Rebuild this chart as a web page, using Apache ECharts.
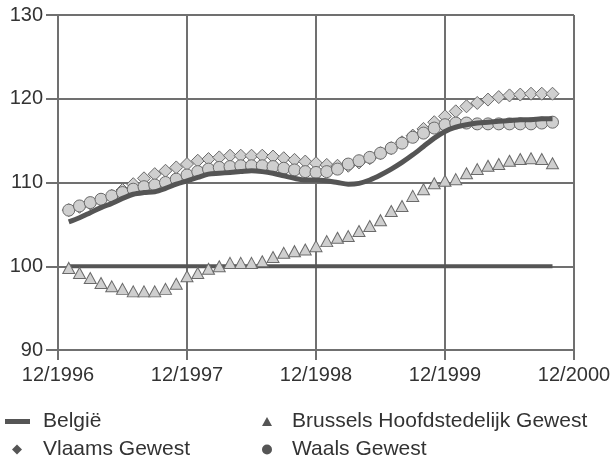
<!DOCTYPE html>
<html><head><meta charset="utf-8">
<script src="https://cdn.jsdelivr.net/npm/echarts@6/dist/echarts.min.js"></script>
<style>html,body{margin:0;padding:0;background:#fff}#c{width:614px;height:462px}</style>
</head><body><div id="c"></div>
<script>
// Monthly index values, 01/1997 .. 10/2000 (month offset 1..46 from 12/1996)
const xTickLabels = ['12/1996','12/1997','12/1998','12/1999','12/2000'];
const belgie = [105.3,105.8,106.4,107.0,107.5,108.1,108.6,108.8,108.9,109.3,109.8,110.2,110.6,111.0,111.1,111.2,111.3,111.4,111.3,111.1,110.8,110.5,110.3,110.3,110.2,110.0,109.8,109.9,110.3,110.9,111.6,112.4,113.3,114.3,115.3,116.1,116.6,116.9,117.1,117.2,117.3,117.4,117.5,117.5,117.6,117.6];
const belgieBase = [100,100,100,100,100,100,100,100,100,100,100,100,100,100,100,100,100,100,100,100,100,100,100,100,100,100,100,100,100,100,100,100,100,100,100,100,100,100,100,100,100,100,100,100,100,100];
const brussel = [99.8,99.2,98.6,98.0,97.6,97.3,97.0,97.0,97.0,97.3,97.9,98.8,99.2,99.7,100.0,100.4,100.4,100.4,100.6,101.1,101.6,101.8,102.0,102.4,103.0,103.4,103.6,104.2,104.8,105.5,106.6,107.2,108.4,109.2,109.9,110.2,110.4,111.1,111.6,112.0,112.2,112.6,112.8,112.9,112.8,112.3];
const vlaams = [106.7,107.1,107.5,107.9,108.4,109.1,109.8,110.5,111.0,111.4,111.8,112.2,112.6,112.8,113.0,113.2,113.2,113.2,113.2,113.1,112.9,112.7,112.5,112.3,112.1,112.0,112.0,112.4,112.9,113.5,114.1,114.8,115.6,116.4,117.2,117.9,118.5,119.1,119.5,119.9,120.2,120.4,120.5,120.6,120.6,120.6];
const waals = [106.7,107.2,107.6,108.0,108.4,108.8,109.2,109.5,109.7,110.0,110.4,110.9,111.3,111.6,111.8,111.9,112.0,112.0,112.0,111.9,111.7,111.5,111.3,111.2,111.3,111.6,112.2,112.6,113.0,113.5,114.1,114.7,115.4,115.9,116.5,116.9,117.1,117.1,117.0,117.0,117.0,117.0,117.0,117.0,117.1,117.2];

const toXY = arr => arr.map((v, i) => [i + 1, v]);
const FONT = 'Liberation Sans';
const TXT = '#333';
const GRID = '#707070';
const DARK = '#555';

const chart = echarts.init(document.getElementById('c'), null, {renderer: 'canvas'});
const markerStyle = {color: '#cfcfcf', borderColor: '#6a6a6a', borderWidth: 1};
const legendText = {fontFamily: FONT, fontSize: 21, color: TXT};
function legendAt(left, top, name, icon, w, h, pad) {
  return {left: left, top: top, itemWidth: w, itemHeight: h, selectedMode: false,
    data: [{name: name, icon: icon, itemStyle: {color: DARK, borderWidth: 0}, lineStyle: {width: 0}}],
    textStyle: Object.assign({padding: [0, 0, 0, pad]}, legendText)};
}
chart.setOption({
  animation: false,
  backgroundColor: '#fff',
  grid: {left: 58, right: 40, top: 15, bottom: 112},
  legend: [
    legendAt(0, 406, 'België', 'rect', 25, 5, 8),
    legendAt(257, 406, 'Brussels Hoofdstedelijk Gewest', 'triangle', 10, 9, 15),
    legendAt(7, 434, 'Vlaams Gewest', 'diamond', 10, 10, 16),
    legendAt(257, 434, 'Waals Gewest', 'circle', 10, 10, 15)
  ],
  xAxis: {
    type: 'value', min: 0, max: 48, interval: 12,
    axisLine: {show: true, onZero: false, lineStyle: {color: GRID, width: 2}},
    axisTick: {show: true, length: 10, lineStyle: {color: GRID, width: 2}},
    axisLabel: {fontFamily: FONT, fontSize: 20, color: TXT, margin: 15,
      formatter: v => xTickLabels[Math.round(v / 12)]},
    splitLine: {show: true, lineStyle: {color: GRID, width: 2}}
  },
  yAxis: {
    type: 'value', min: 90, max: 130, interval: 10,
    axisLine: {show: true, lineStyle: {color: GRID, width: 2}},
    axisTick: {show: true, length: 12, lineStyle: {color: GRID, width: 2}},
    axisLabel: {fontFamily: FONT, fontSize: 20, color: TXT, margin: 15},
    splitLine: {show: true, lineStyle: {color: GRID, width: 2}}
  },
  series: [
    {name: 'België (basis)', type: 'line', data: toXY(belgieBase), showSymbol: false,
      lineStyle: {color: DARK, width: 4}, itemStyle: {color: DARK}, z: 3},
    {name: 'Brussels Hoofdstedelijk Gewest', type: 'line', data: toXY(brussel), symbol: 'triangle', symbolSize: [12, 11],
      lineStyle: {width: 0, opacity: 0}, itemStyle: markerStyle, z: 4},
    {name: 'Vlaams Gewest', type: 'line', data: toXY(vlaams), symbol: 'diamond', symbolSize: 13,
      lineStyle: {width: 0, opacity: 0}, itemStyle: markerStyle, z: 5},
    {name: 'Waals Gewest', type: 'line', data: toXY(waals), symbol: 'circle', symbolSize: 12,
      lineStyle: {width: 0, opacity: 0}, itemStyle: markerStyle, z: 6},
    {name: 'België', type: 'line', data: toXY(belgie), showSymbol: false, smooth: 0.3,
      lineStyle: {color: DARK, width: 5}, itemStyle: {color: DARK}, z: 7}
  ]
});
</script></body></html>
